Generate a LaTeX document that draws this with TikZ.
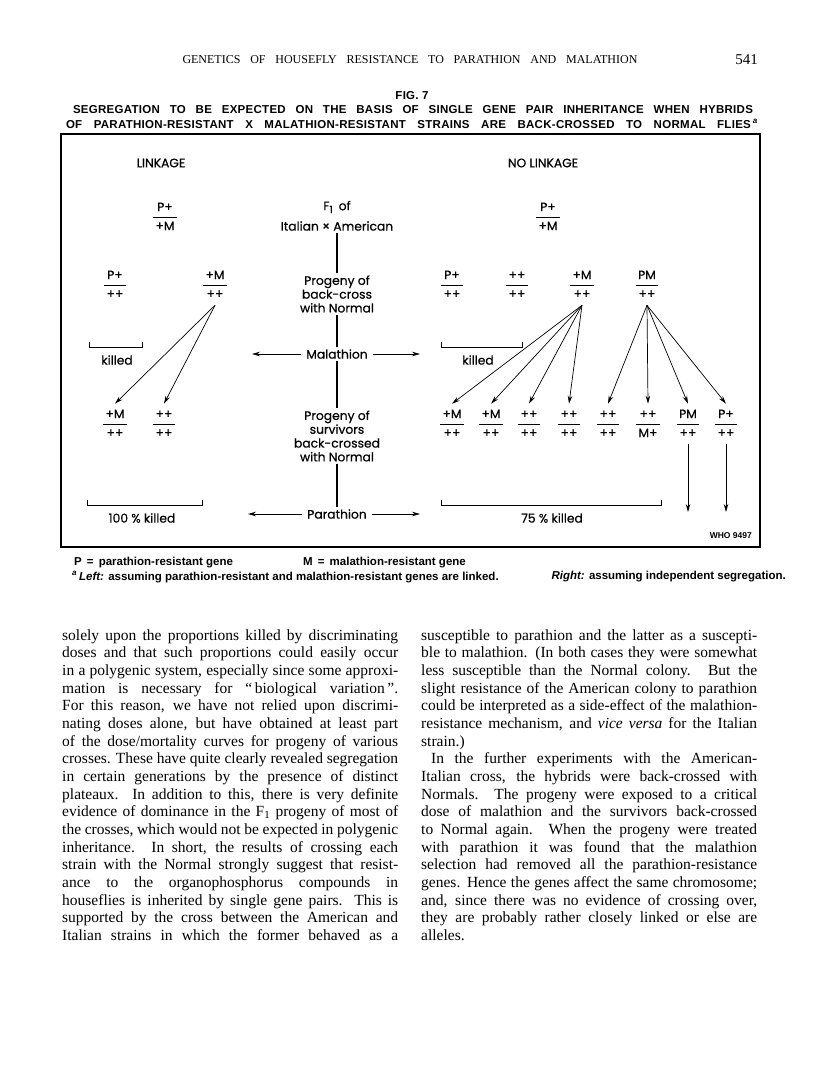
\documentclass[tikz,border=0pt]{standalone}
\usepackage{fontspec}
\setmainfont{Liberation Serif}
\newfontfamily\figf[FakeBold=0.5]{Poppins}
\newfontfamily\capf{Liberation Sans}
\newfontfamily\titf[LetterSpace=2.5]{Liberation Sans}
\usetikzlibrary{arrows.meta}
\newlength\colw \setlength\colw{336pt}
\newcommand{\jl}[1]{\makebox[\colw][s]{#1}\par}
\newcommand{\lastl}[1]{\makebox[\colw][l]{#1}\par}
\newcommand{\geno}[2]{{\renewcommand\arraystretch{1.35}\setlength\arrayrulewidth{0.7pt}\begin{tabular}{@{\hspace{2.5pt}}c@{\hspace{2.5pt}}}#1\\\hline #2\end{tabular}}}
\begin{document}
\begin{tikzpicture}[x=1pt,y=-1pt,
  fig/.style={font=\figf\fontsize{12.3}{13.8}\selectfont, inner sep=2pt, align=center},
  gen/.style={font=\figf\fontsize{12.3}{13.5}\selectfont, inner sep=1.5pt},
  arr/.style={-{Stealth[length=8pt,width=4.5pt]}, line width=0.7pt},
  ln/.style={line width=1.1pt},
  brk/.style={line width=0.8pt},
  legend/.style={font=\capf\bfseries\fontsize{11.5}{13}\selectfont, inner sep=0pt},
  tit/.style={font=\titf\bfseries\fontsize{11.5}{13}\selectfont, inner sep=0pt},
  body/.style={font=\fontsize{15.5}{17.67}\selectfont, inner sep=0pt, anchor=base west}
]
\fill[white] (0,0) rectangle (816,1086);
\useasboundingbox (0,0) rectangle (816,1086);

% running head
\node[font=\fontsize{12}{14}\selectfont, inner sep=0] (hdr) at (410,60) {\makebox[455pt][s]{GENETICS OF HOUSEFLY RESISTANCE TO PARATHION AND MALATHION}};
\node[font=\fontsize{15}{17}\selectfont, inner sep=0, anchor=east] (pgno) at (758,60) {541};

% title
\node[tit] (fig) at (412,96) {FIG.~7};
\node[tit] (t1) at (413,110) {\makebox[680pt][s]{SEGREGATION TO BE EXPECTED ON THE BASIS OF SINGLE GENE PAIR INHERITANCE WHEN HYBRIDS}};
\node[tit] (t2) at (412,124) {\makebox[692pt][s]{OF PARATHION-RESISTANT X MALATHION-RESISTANT STRAINS ARE BACK-CROSSED TO NORMAL FLIES\,\textsuperscript{\textit{a}}}};

% frame
\draw[line width=1.1pt] (61,134) rectangle (760,547);

% headings
\node[fig] (lk) at (161,163) {LINKAGE};
\node[fig] (nlk) at (543,163) {NO LINKAGE};

% centre column
\node[fig] (f1) at (337,207) {F\raisebox{-3pt}{\fontsize{10}{10}\selectfont 1}\hspace{6pt}of};
\node[fig] (ia) at (337,226) {Italian × American};
\node[fig] (pb) at (337,294) {Progeny of\\back-cross\\with Normal};
\node[fig] (mal) at (337,354) {Malathion};
\node[fig] (ps) at (337,436) {Progeny of\\survivors\\back-crossed\\with Normal};
\node[fig] (par) at (337,514) {Parathion};
\draw[ln] (ia) -- (pb);
\draw[ln] (pb) -- (mal);
\draw[ln] (mal) -- (ps);
\draw[ln] (ps) -- (par);
\coordinate (malL) at (252,354); \coordinate (malR) at (420,354);
\coordinate (parL) at (248,514); \coordinate (parR) at (420,514);
\draw[arr, shorten <=3pt] (mal) -- (malL);
\draw[arr, shorten <=3pt] (mal) -- (malR);
\draw[arr, shorten <=3pt] (par) -- (parL);
\draw[arr, shorten <=3pt] (par) -- (parR);

% left: linkage
\node[gen] (l0) at (165,217) {\geno{P+}{+M}};
\node[gen] (l1) at (115,285) {\geno{P+}{++}};
\node[gen] (l2) at (215,285) {\geno{+M}{++}};
\node[gen] (l3) at (115,424) {\geno{+M}{++}};
\node[gen] (l4) at (164,424) {\geno{++}{++}};
\draw[arr] (l2.south) -- (l3.north);
\draw[arr] (l2.south) -- (l4.north);
\coordinate (k1a) at (89,347); \coordinate (k1b) at (142,347);
\draw[brk] ([yshift=5pt]k1a) -- (k1a) -- (k1b) -- ([yshift=5pt]k1b);
\node[fig] (kl) at (117,360) {killed};
\coordinate (k3a) at (87,505); \coordinate (k3b) at (202,505);
\draw[brk] ([yshift=5pt]k3a) -- (k3a) -- (k3b) -- ([yshift=5pt]k3b);
\node[fig] (k100) at (142,518) {100 \% killed};

% right: no linkage
\node[gen] (r0) at (548,217) {\geno{P+}{+M}};
\node[gen] (r1) at (452,285) {\geno{P+}{++}};
\node[gen] (r2) at (517,285) {\geno{++}{++}};
\node[gen] (r3) at (582,285) {\geno{+M}{++}};
\node[gen] (r4) at (647,285) {\geno{PM}{++}};
\node[gen] (b1) at (452,424) {\geno{+M}{++}};
\node[gen] (b2) at (491,424) {\geno{+M}{++}};
\node[gen] (b3) at (529,424) {\geno{++}{++}};
\node[gen] (b4) at (569,424) {\geno{++}{++}};
\node[gen] (b5) at (608,424) {\geno{++}{++}};
\node[gen] (b6) at (648,424) {\geno{++}{M+}};
\node[gen] (b7) at (688,424) {\geno{PM}{++}};
\node[gen] (b8) at (726,424) {\geno{P+}{++}};
\foreach \t in {b1,b2,b3,b4} \draw[arr] (r3.south) -- (\t.north);
\foreach \t in {b5,b6,b7,b8} \draw[arr] (r4.south) -- (\t.north);
\coordinate (d7) at (688,512); \coordinate (d8) at (726,512);
\draw[arr] (b7.south) -- (d7);
\draw[arr] (b8.south) -- (d8);
\coordinate (k2a) at (441,347); \coordinate (k2b) at (522,347);
\draw[brk] ([yshift=5pt]k2a) -- (k2a) -- (k2b) -- ([yshift=5pt]k2b);
\node[fig] (kr) at (478,360) {killed};
\coordinate (k4a) at (441,505); \coordinate (k4b) at (661,505);
\draw[brk] ([yshift=5pt]k4a) -- (k4a) -- (k4b) -- ([yshift=5pt]k4b);
\node[fig] (k75) at (552,518) {75 \% killed};
\node[font=\capf\bfseries\fontsize{8.5}{9}\selectfont, anchor=east, inner sep=0] (who) at (752,536) {WHO 9497};

% legend and footnote
\node[legend, anchor=west] (legP) at (74,563) {P~\,=~\,parathion-resistant gene};
\node[legend, anchor=west] (legM) at (303,563) {M~\,=~\,malathion-resistant gene};
\node[legend, anchor=west] (fnL) at (72,577) {\textsuperscript{\textit{a}}\,\textit{Left:} assuming parathion-resistant and malathion-resistant genes are linked.};
\node[legend, anchor=east] (fnR) at (786,577) {\textit{Right:} assuming independent segregation.};

% body text
\node[body] (colL) at (62,640) {\parbox[t]{\colw}{\parindent0pt
\jl{solely upon the proportions killed by discriminating}
\jl{doses and that such proportions could easily occur}
\jl{in a polygenic system, especially since some approxi-}
\jl{mation is necessary for “\,biological variation\,”.}
\jl{For this reason, we have not relied upon discrimi-}
\jl{nating doses alone, but have obtained at least part}
\jl{of the dose/mortality curves for progeny of various}
\jl{crosses. These have quite clearly revealed segregation}
\jl{in certain generations by the presence of distinct}
\jl{plateaux. In addition to this, there is very definite}
\jl{evidence of dominance in the F\textsubscript{1} progeny of most of}
\jl{the crosses, which would not be expected in polygenic}
\jl{inheritance. In short, the results of crossing each}
\jl{strain with the Normal strongly suggest that resist-}
\jl{ance to the organophosphorus compounds in}
\jl{houseflies is inherited by single gene pairs. This is}
\jl{supported by the cross between the American and}
\jl{Italian strains in which the former behaved as a}}};

\node[body] (colR) at (421,640) {\parbox[t]{\colw}{\parindent0pt
\jl{susceptible to parathion and the latter as a suscepti-}
\jl{ble to malathion. (In both cases they were somewhat}
\jl{less susceptible than the Normal colony. But the}
\jl{slight resistance of the American colony to parathion}
\jl{could be interpreted as a side-effect of the malathion-}
\jl{resistance mechanism, and \textit{vice versa} for the Italian}
\lastl{strain.)}
\jl{\hspace*{10pt}In the further experiments with the American-}
\jl{Italian cross, the hybrids were back-crossed with}
\jl{Normals. The progeny were exposed to a critical}
\jl{dose of malathion and the survivors back-crossed}
\jl{to Normal again. When the progeny were treated}
\jl{with parathion it was found that the malathion}
\jl{selection had removed all the parathion-resistance}
\jl{genes. Hence the genes affect the same chromosome;}
\jl{and, since there was no evidence of crossing over,}
\jl{they are probably rather closely linked or else are}
\lastl{alleles.}}};
\end{tikzpicture}
\end{document}
